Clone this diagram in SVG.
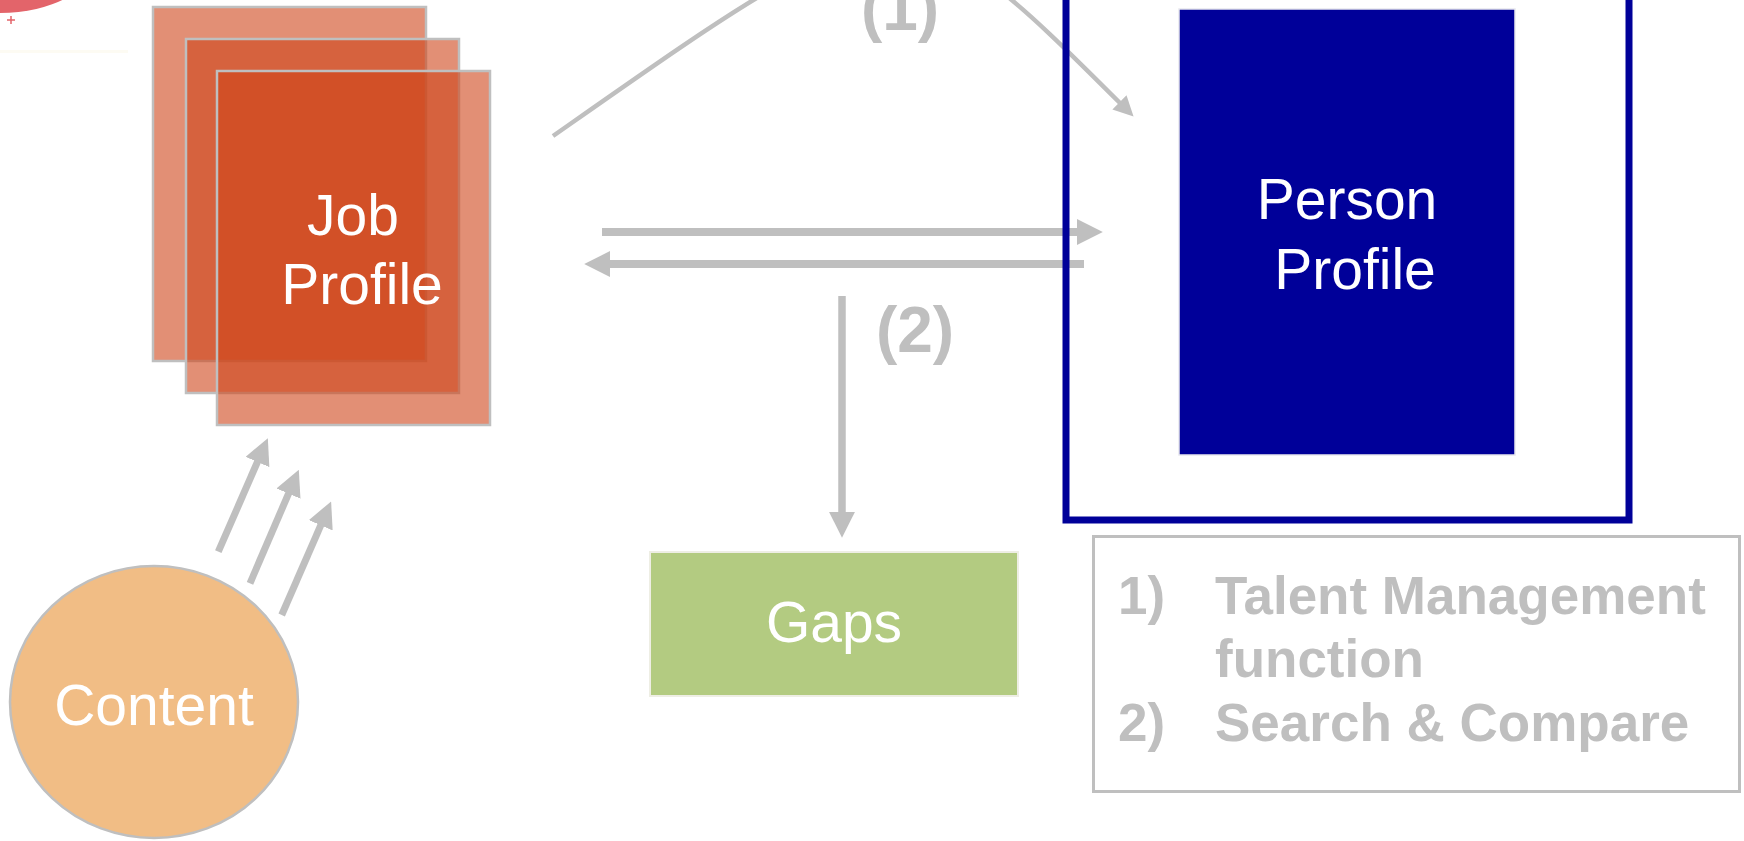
<svg xmlns="http://www.w3.org/2000/svg" width="1744" height="841" viewBox="0 0 1744 841">
  <style>
    .lbl { font-family: "Liberation Sans", Arial, sans-serif; font-size: 57px; fill: #FFFFFF; text-anchor: middle; }
    .num { font-family: "Liberation Sans", Arial, sans-serif; font-size: 64px; font-weight: bold; fill: #BFBFBF; text-anchor: middle; }
    .leg { font-family: "Liberation Sans", Arial, sans-serif; font-size: 53px; font-weight: bold; fill: #BFBFBF; }
    .job { fill: #CF4519; fill-opacity: 0.6; stroke: #BFBFBF; stroke-width: 2.5; }
    .conn { fill: none; stroke: #BFBFBF; }
  </style>
  <defs>
    <marker id="ah" markerUnits="userSpaceOnUse" markerWidth="26" markerHeight="26" viewBox="0 0 24 24" refX="2" refY="12" orient="auto">
      <path d="M0,0 L24,12 L0,24 Z" fill="#BFBFBF"/>
    </marker>
    <marker id="ahs" markerUnits="userSpaceOnUse" markerWidth="20" markerHeight="20" viewBox="0 0 18 18" refX="2" refY="9" orient="auto">
      <path d="M0,0 L18,9 L0,18 Z" fill="#BFBFBF"/>
    </marker>
  </defs>

  <rect width="1744" height="841" fill="#FFFFFF"/>

  <g id="decor">
    <ellipse cx="0" cy="-40" rx="95" ry="53" fill="#E3646A"/>
    <path d="M7,20 H15 M11,16 V24" stroke="#E3646A" stroke-width="1.5" fill="none"/>
    <rect x="0" y="50" width="128" height="3" fill="#FDFBF3"/>
  </g>

  <g id="connectors">
    <path class="conn" stroke-width="4.5" d="M553,136 C903,-109 902,-115 1121,104" marker-end="url(#ahs)"/>
    <line class="conn" stroke-width="8" x1="602" y1="232" x2="1079" y2="232" marker-end="url(#ah)"/>
    <line class="conn" stroke-width="8" x1="1084" y1="264" x2="608" y2="264" marker-end="url(#ah)"/>
    <line class="conn" stroke-width="7.5" x1="842" y1="296" x2="842" y2="514" marker-end="url(#ah)"/>
    <line class="conn" stroke-width="7" x1="218.3" y1="551.7" x2="258.3" y2="460" marker-end="url(#ah)"/>
    <line class="conn" stroke-width="7" x1="250" y1="583.3" x2="289.4" y2="491.6" marker-end="url(#ah)"/>
    <line class="conn" stroke-width="7" x1="281.7" y1="615" x2="321.6" y2="523.3" marker-end="url(#ah)"/>
    <text class="num" x="900" y="30">(1)</text>
    <text class="num" x="915" y="352">(2)</text>
  </g>

  <g id="job-profile">
    <rect class="job" x="153" y="7" width="273" height="354"/>
    <rect class="job" x="186" y="39" width="273" height="354"/>
    <rect class="job" x="217" y="71" width="273" height="354"/>
    <text class="lbl" x="353" y="235">Job</text>
    <text class="lbl" x="362" y="304">Profile</text>
  </g>

  <g id="content">
    <ellipse cx="154" cy="702" rx="144" ry="136" fill="#F1BD85" stroke="#BFBFBF" stroke-width="2.5"/>
    <text class="lbl" x="154" y="725">Content</text>
  </g>

  <g id="gaps">
    <rect x="650" y="552" width="368" height="144" fill="#B3CB81" stroke="#EEEEE4" stroke-width="2"/>
    <text class="lbl" x="834" y="642">Gaps</text>
  </g>

  <g id="person-frame">
    <rect x="1066" y="-20" width="563" height="540" fill="none" stroke="#000099" stroke-width="7"/>
  </g>

  <g id="person-profile">
    <rect x="1179" y="9" width="336" height="446" fill="#000099" stroke="#E8E8EE" stroke-width="1.5"/>
    <text class="lbl" x="1347" y="219">Person</text>
    <text class="lbl" x="1355" y="289">Profile</text>
  </g>

  <g id="legend">
    <rect x="1093.5" y="536.5" width="646" height="255" fill="none" stroke="#BFBFBF" stroke-width="3"/>
    <text class="leg" x="1118" y="614">1)</text>
    <text class="leg" x="1215" y="614">Talent Management</text>
    <text class="leg" x="1215" y="677">function</text>
    <text class="leg" x="1118" y="741">2)</text>
    <text class="leg" x="1215" y="741">Search &amp; Compare</text>
  </g>
</svg>
